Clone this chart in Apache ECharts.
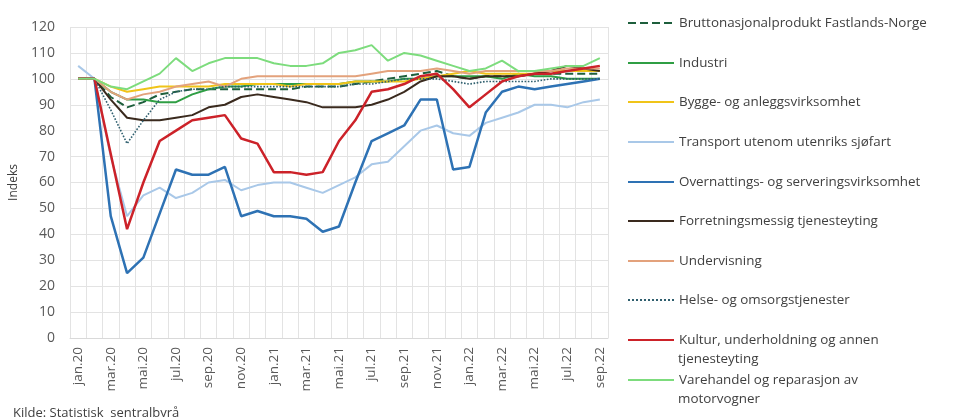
<!DOCTYPE html>
<html>
<head>
<meta charset="utf-8">
<script src="https://cdn.jsdelivr.net/npm/echarts@6/dist/echarts.min.js"></script>
<style>html,body{margin:0;padding:0;background:#fff;}#c{width:960px;height:417px;}</style>
</head>
<body>
<div id="c"></div>
<script>
const months = ['jan.20','feb.20','mar.20','apr.20','mai.20','jun.20','jul.20','aug.20','sep.20','okt.20','nov.20','des.20',
  'jan.21','feb.21','mar.21','apr.21','mai.21','jun.21','jul.21','aug.21','sep.21','okt.21','nov.21','des.21',
  'jan.22','feb.22','mar.22','apr.22','mai.22','jun.22','jul.22','aug.22','sep.22'];
const yTicks = [0,10,20,30,40,50,60,70,80,90,100,110,120];

const brutto      = [100,100,93,89,91,94,95,96,96,96,96,96,96,96,97,97,97,98,99,100,101,102,103,101,100,101,101,101,102,102,102,102,102];
const industri    = [100,100,95,92,92,91,91,94,96,97,97,98,98,98,98,98,98,99,99,99,100,100,101,101,101,101,100,102,101,101,100,100,100];
const bygge       = [100,100,97,95,96,97,97,97,97,98,98,98,98,97,98,98,98,99,99,99,99,100,101,102,103,102,102,102,102,103,103,103,103];
const transport   = [105,100,70,47,55,58,54,56,60,61,57,59,60,60,58,56,59,62,67,68,74,80,82,79,78,83,85,87,90,90,89,91,92];
const overnatting = [100,100,47,25,31,48,65,63,63,66,47,49,47,47,46,41,43,60,76,79,82,92,92,65,66,87,95,97,96,97,98,99,100];
const forretning  = [100,100,92,85,84,84,85,86,89,90,93,94,93,92,91,89,89,89,90,92,95,99,101,101,100,101,101,101,102,103,105,104,103];
const undervisning= [100,100,95,92,94,95,97,98,99,97,100,101,101,101,101,101,101,101,102,103,103,103,104,103,102,103,103,103,103,103,104,104,104];
const helse       = [100,100,88,75,84,92,95,96,96,97,97,97,97,97,97,97,97,98,98,99,100,100,100,99,98,99,99,99,99,100,100,100,100];
const kultur      = [100,100,71,42,60,76,80,84,85,86,77,75,64,64,63,64,76,84,95,96,98,101,102,96,89,94,99,101,102,102,103,104,105];
const varehandel  = [100,100,97,96,99,102,108,103,106,108,108,108,106,105,105,106,110,111,113,107,110,109,107,105,103,104,107,103,103,104,105,105,108];

const seriesNames = [
  'Bruttonasjonalprodukt Fastlands-Norge',
  'Industri',
  'Bygge- og anleggsvirksomhet',
  'Transport utenom utenriks sjøfart',
  'Overnattings- og serveringsvirksomhet',
  'Forretningsmessig tjenesteyting',
  'Undervisning',
  'Helse- og omsorgstjenester',
  'Kultur, underholdning og annen\ntjenesteyting',
  'Varehandel og reparasjon av\nmotorvogner'
];
const seriesData = [brutto, industri, bygge, transport, overnatting, forretning, undervisning, helse, kultur, varehandel];
const colors = ['#1d5e3c','#2f9e44','#f0c419','#a9c8e8','#2e72b4','#3a2a1e','#e3a27c','#2f5f6e','#cc2229','#7ddc7d'];
const widths = [2,2,2,2,2.5,2,2,1.6,2.5,2];
const dashes = ['dashed','solid','solid','solid','solid','solid','solid','dotted','solid','solid'];

const legendCenters = [23,63,102,142,182,221,261,300,340,380];
const LH = 19;
const FS = 13.4;
const legends = seriesNames.map((n,i)=>({
  data:[n],
  left:627, top: legendCenters[i] - LH/2,
  padding:0, itemWidth:46, itemHeight:14, selectedMode:false,
  itemStyle:{opacity:0},
  formatter: function(name){ return name.split('\n')[0]; },
  textStyle:{fontFamily:'Open Sans', fontSize:FS, color:'#404040', lineHeight:LH}
}));
const secondLines = [];
seriesNames.forEach((n,i)=>{
  const parts = n.split('\n');
  if (parts.length > 1) {
    secondLines.push({type:'text', left:678, top: legendCenters[i] + LH - LH/2,
      style:{text:parts[1], font: FS + 'px "Open Sans"', fill:'#404040', lineHeight:LH}});
  }
});

const series = seriesNames.map((n,i)=>({
  name:n, type:'line', data:seriesData[i], symbol:'none', showSymbol:false, smooth:false,
  lineStyle:{color:colors[i], width:widths[i], type:dashes[i]}, itemStyle:{color:colors[i]},
  emphasis:{disabled:true}, animation:false
}));

const chart = echarts.init(document.getElementById('c'), null, {renderer:'canvas'});
chart.setOption({
  animation:false,
  title:{text:'Kilde: Statistisk  sentralbyrå', left:8, top:402,
    textStyle:{fontFamily:'Open Sans', fontSize:13, fontWeight:'normal', color:'#404040'}},
  legend: legends,
  graphic: secondLines,
  grid:{left:68, right:352, top:27, bottom:79, containLabel:false},
  xAxis:{type:'category', data:months, boundaryGap:true,
    axisLine:{lineStyle:{color:'#d9d9d9'}}, axisTick:{show:false},
    axisLabel:{interval:1, rotate:90, fontFamily:'Open Sans', fontSize:13.5, color:'#595959', margin:9},
    splitLine:{show:true, interval:0, lineStyle:{color:'#e3e3e3'}}},
  yAxis:{type:'value', min:yTicks[0], max:yTicks[yTicks.length-1], interval:10,
    name:'Indeks', nameLocation:'middle', nameGap:50, nameRotate:90,
    nameTextStyle:{fontFamily:'Open Sans', fontSize:12, color:'#404040'},
    axisLine:{show:false}, axisTick:{show:false},
    axisLabel:{fontFamily:'Open Sans', fontSize:14, color:'#595959', margin:15},
    splitLine:{lineStyle:{color:'#e3e3e3'}}},
  series: series
});
</script>
</body>
</html>
